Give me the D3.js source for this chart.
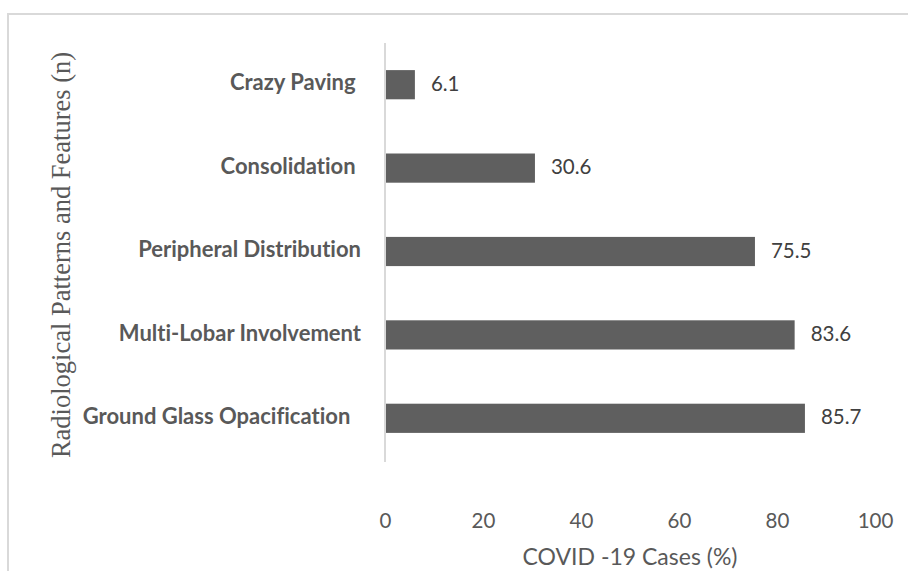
<!DOCTYPE html>
<html><head><meta charset="utf-8">
<script src="https://cdn.jsdelivr.net/npm/d3@7"></script>
<style>body{margin:0;background:#fff}svg{display:block}text{font-variant-ligatures:none;font-feature-settings:"liga" 0}</style>
</head><body>
<svg id="c" width="908" height="571"></svg>
<script>
const categories = ["Crazy Paving ", "Consolidation ", "Peripheral Distribution", "Multi-Lobar Involvement", "Ground Glass Opacification  "];
const values = [6.1, 30.6, 75.5, 83.6, 85.7];
const xTicks = [0, 20, 40, 60, 80, 100];
const xTitle = "COVID -19 Cases (%)";
const yTitle = "Radiological Patterns and Features (n)";

const svg = d3.select("#c");
const W = 908, H = 571;
const sans = "Lato, 'Open Sans', sans-serif";
// outer border
svg.append("rect").attr("x", 8).attr("y", 14).attr("width", W).attr("height", H)
  .attr("fill", "none").attr("stroke", "#d9d9d9").attr("stroke-width", 2);

const x = d3.scaleLinear().domain([0, 100]).range([385, 875]);
const y = d3.scaleBand().domain(categories).range([43, 460]).paddingInner(0.65).paddingOuter(0.325);

// axis line
svg.append("line").attr("x1", x(0)).attr("x2", x(0)).attr("y1", 43).attr("y2", 462)
  .attr("stroke", "#d9d9d9").attr("stroke-width", 2);

svg.selectAll("rect.bar").data(values).join("rect").attr("class", "bar")
  .attr("x", x(0) + 1).attr("y", (d, i) => y(categories[i]))
  .attr("width", d => x(d) - x(0) - 1).attr("height", y.bandwidth())
  .attr("fill", "#5f5f5f");

svg.selectAll("text.val").data(values).join("text").attr("class", "val")
  .attr("x", d => x(d) + 16).attr("y", (d, i) => y(categories[i]) + y.bandwidth() / 2 + 1)
  .attr("dominant-baseline", "middle").attr("font-family", sans).attr("font-size", 20.5)
  .attr("fill", "#404040").text(d => d.toFixed(1));

svg.selectAll("text.cat").data(categories).join("text").attr("class", "cat")
  .attr("x", 361).attr("y", d => y(d) + y.bandwidth() / 2)
  .attr("dominant-baseline", "middle").attr("text-anchor", "end")
  .attr("font-family", sans).attr("font-weight", "bold").attr("font-size", 22)
  .attr("fill", "#595959").style("white-space", "pre").text(d => d);

const xAxis = d3.axisBottom(x).tickValues(xTicks).tickSize(0).tickPadding(0).tickFormat(d3.format("d"));
const gx = svg.append("g").attr("transform", "translate(0,521)").call(xAxis);
gx.select(".domain").remove();
gx.selectAll("text").attr("font-family", sans).attr("font-size", 20.5).attr("fill", "#595959")
  .attr("y", 0).attr("dy", "0.35em");

svg.append("text").attr("x", (x(0) + x(100)) / 2).attr("y", 559)
  .attr("text-anchor", "middle").attr("dominant-baseline", "middle")
  .attr("font-family", sans).attr("font-size", 23).attr("fill", "#595959").text(xTitle);

svg.append("text").attr("transform", "translate(70,255) rotate(-90)")
  .attr("text-anchor", "middle")
  .attr("font-family", "'Liberation Serif', 'Times New Roman', serif").attr("font-size", 26.5)
  .attr("fill", "#595959").text(yTitle);
</script>
</body></html>
